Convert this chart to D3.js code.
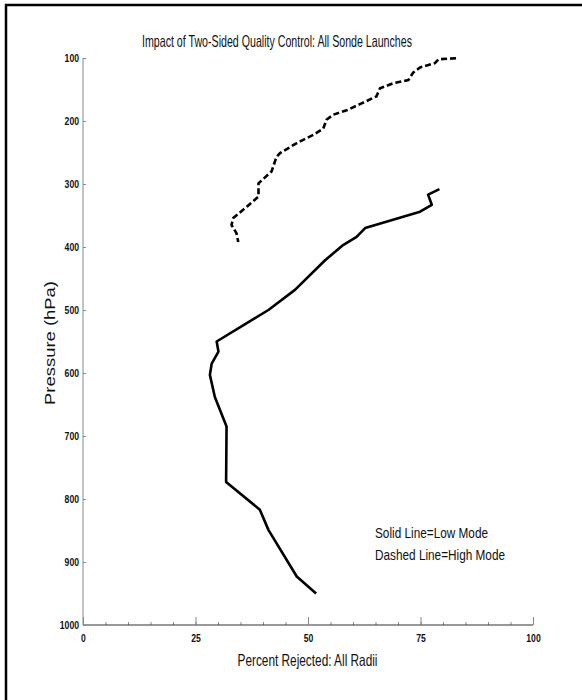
<!DOCTYPE html>
<html>
<head>
<meta charset="utf-8">
<script src="https://cdn.jsdelivr.net/npm/d3@7"></script>
<style>
  body { margin: 0; background: #fff; }
  text { font-family: "Liberation Sans Narrow", "Arial Narrow", "Liberation Sans", sans-serif; }
</style>
</head>
<body>
<div id="chart"></div>
<script>
// Low mode (solid line): percent rejected vs pressure
const lowPct = [79.2, 76.7, 77.5, 74.9, 62.7, 60.8, 57.8, 53.8, 47.1, 41.2, 36.4, 29.7, 30.1, 28.6, 28.2, 29.3, 31.9, 31.8, 39.3, 41.2, 47.5, 51.8];
const lowP   = [308, 317, 333, 344, 370, 384, 397, 421, 468, 500, 521, 550, 566, 585, 603, 638, 685, 773, 817, 849, 923, 950];

// High mode (dashed line)
const highPct = [82.9, 79, 78.2, 74.9, 73.4, 72.3, 69, 66, 65.2, 61.9, 58.6, 55.6, 54.1, 53.4, 51.2, 47.5, 43.8, 43, 41.9, 39, 39, 36.4, 33.4, 33, 34.1, 34.5];
const highP   = [100.5, 102, 108, 115, 123, 135, 140, 148, 161, 172, 183, 190, 198, 212, 222, 235, 251, 257, 280, 299, 320, 336, 354, 365, 378, 392];

const xMajor = [0, 25, 50, 75, 100];
const xMinor = d3.range(0, 101, 5);
const yTicks = [100, 200, 300, 400, 500, 600, 700, 800, 900, 1000];

const width = 582, height = 700;

const svg = d3.select('#chart')
    .append('svg')
    .attr('width', width)
    .attr('height', height);

// frame (only top and left edges fall inside the picture)
svg.append('rect')
    .attr('x', 6).attr('y', 5)
    .attr('width', 620).attr('height', 720)
    .attr('fill', 'none')
    .attr('stroke', '#000')
    .attr('stroke-width', 2.5);

const x = d3.scaleLinear().domain([0, 100]).range([83, 533]);
const y = d3.scaleLinear().domain([100, 1000]).range([58, 625]);

// squeeze tick labels to look condensed
function condense(sel) {
    sel.attr('fill', '#111')
        .style('font-size', '11px')
        .style('font-weight', 'bold')
        .attr('textLength', function () { return this.textContent.length * 4.8; })
        .attr('lengthAdjust', 'spacingAndGlyphs');
}

// x axis: minor ticks
svg.append('g')
    .attr('transform', `translate(0,${y(1000)})`)
    .call(d3.axisBottom(x).tickValues(xMinor).tickSize(-3).tickFormat('').tickSizeOuter(0))
    .call(g => g.select('.domain').remove())
    .call(g => g.selectAll('line').attr('stroke', '#888'));

// x axis: major ticks + labels
svg.append('g')
    .attr('transform', `translate(0,${y(1000)})`)
    .call(d3.axisBottom(x).tickValues(xMajor).tickSize(-8).tickPadding(9).tickSizeOuter(0).tickFormat(d3.format('d')))
    .call(g => g.select('.domain').attr('stroke', '#333').attr('d', `M${x(0)},0H${x(100)}`))
    .call(g => g.selectAll('line').attr('stroke', '#888'))
    .call(g => g.selectAll('text').call(condense));

// y axis
svg.append('g')
    .attr('transform', `translate(${x(0)},0)`)
    .call(d3.axisLeft(y).tickValues(yTicks).tickSize(-3).tickPadding(4).tickSizeOuter(0).tickFormat(d3.format('d')))
    .call(g => g.select('.domain').attr('stroke', '#888').attr('d', `M0,${y(100)}V${y(1000)}`))
    .call(g => g.selectAll('line').attr('stroke', '#888'))
    .call(g => g.selectAll('text').call(condense));

const line = d3.line()
    .x(d => x(d[0]))
    .y(d => y(d[1]));

svg.append('path')
    .datum(lowPct.map((v, i) => [v, lowP[i]]))
    .attr('d', line)
    .attr('fill', 'none')
    .attr('stroke', '#000')
    .attr('stroke-width', 2.6)
    .attr('stroke-linejoin', 'round');

svg.append('path')
    .datum(highPct.map((v, i) => [v, highP[i]]))
    .attr('d', line)
    .attr('fill', 'none')
    .attr('stroke', '#000')
    .attr('stroke-width', 2.6)
    .attr('stroke-dasharray', '6,3');

// title
svg.append('text')
    .attr('x', 277).attr('y', 46.5)
    .attr('text-anchor', 'middle')
    .attr('textLength', 270)
    .attr('lengthAdjust', 'spacingAndGlyphs')
    .style('font-size', '16.5px')
    .attr('fill', '#111')
    .text('Impact of Two-Sided Quality Control: All Sonde Launches');

// x label
svg.append('text')
    .attr('x', 307.5).attr('y', 665.5)
    .attr('text-anchor', 'middle')
    .attr('textLength', 140)
    .attr('lengthAdjust', 'spacingAndGlyphs')
    .style('font-size', '16.5px')
    .attr('fill', '#111')
    .text('Percent Rejected: All Radii');

// y label
svg.append('text')
    .attr('transform', 'translate(55,343) rotate(-90)')
    .attr('text-anchor', 'middle')
    .attr('textLength', 124)
    .attr('lengthAdjust', 'spacingAndGlyphs')
    .style('font-size', '15.5px')
    .attr('fill', '#111')
    .text('Pressure (hPa)');

// legend notes
svg.append('text')
    .attr('x', 375).attr('y', 537.5)
    .attr('textLength', 113)
    .attr('lengthAdjust', 'spacingAndGlyphs')
    .style('font-size', '15px')
    .attr('fill', '#111')
    .text('Solid Line=Low Mode');

svg.append('text')
    .attr('x', 375).attr('y', 559.5)
    .attr('textLength', 130)
    .attr('lengthAdjust', 'spacingAndGlyphs')
    .style('font-size', '15px')
    .attr('fill', '#111')
    .text('Dashed Line=High Mode');
</script>
</body>
</html>
